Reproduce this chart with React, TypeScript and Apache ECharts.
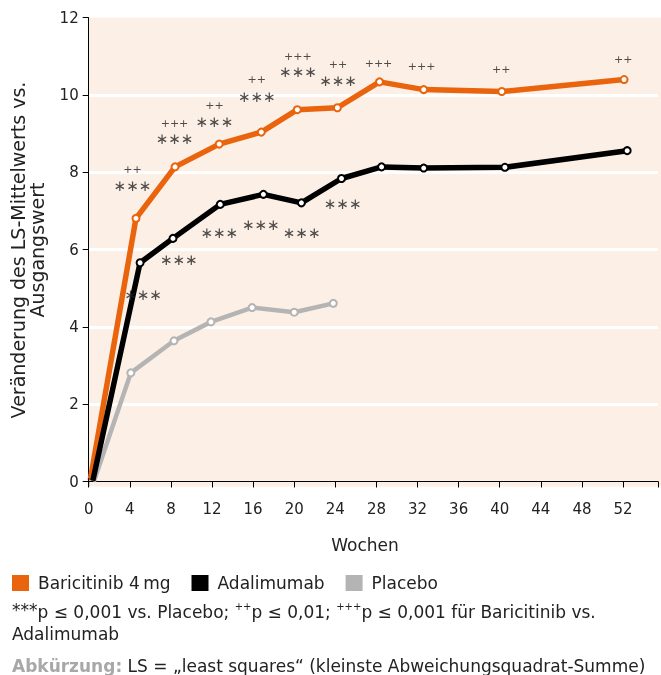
import React, { useEffect, useRef } from "react";
import * as echarts from "echarts";

const weekTicks = [0, 4, 8, 12, 16, 20, 24, 28, 32, 36, 40, 44, 48, 52];
const valueTicks = [0, 2, 4, 6, 8, 10, 12];

const weeksBari = [0.15, 4.6, 8.4, 12.7, 16.8, 20.3, 24.2, 28.3, 32.6, 40.2, 52.1];
const valuesBari = [0.04, 6.81, 8.14, 8.73, 9.04, 9.62, 9.67, 10.34, 10.14, 10.09, 10.4];
const weeksAda = [0.4, 5.0, 8.2, 12.8, 17.0, 20.7, 24.6, 28.5, 32.6, 40.5, 52.4];
const valuesAda = [0.02, 5.66, 6.29, 7.17, 7.43, 7.21, 7.84, 8.14, 8.11, 8.13, 8.56];
const weeksPbo = [0.5, 4.1, 8.3, 11.9, 15.9, 20.0, 23.8];
const valuesPbo = [0.0, 2.81, 3.64, 4.13, 4.5, 4.38, 4.61];

// significance vs placebo (***)
const starWeeks = [4.26, 8.35, 12.23, 16.36, 20.36, 24.26, 5.29, 8.77, 12.71, 16.75, 20.72, 24.71];
const starValues = [7.65, 8.85, 9.29, 9.96, 10.59, 10.37, 4.83, 5.73, 6.42, 6.64, 6.42, 7.17];
// significance vs adalimumab (++ / +++)
const plusWeeks = [4.26, 8.35, 12.23, 16.36, 20.36, 24.26, 28.2, 32.39, 40.14, 52.01];
const plusValues = [8.08, 9.25, 9.72, 10.39, 10.99, 10.8, 10.82, 10.73, 10.65, 10.92];
const plusTexts = ["++", "+++", "++", "++", "+++", "++", "+++", "+++", "++", "++"];

const seriesNames = ["Baricitinib 4\u2009mg", "Adalimumab", "Placebo"];
const colors = ["#E9640C", "#000000", "#B4B4B4"];

const FONT = "DejaVu Sans";

export default function App() {
  const ref = useRef<HTMLDivElement>(null);
  useEffect(() => {
    if (!ref.current) return;
    const chart = echarts.init(ref.current, null, { renderer: "svg" });
    const zip = (xs: number[], ys: number[]) =>
      xs.map((x, i) => (i === 0 ? { value: [x, ys[i]], symbol: "none" } : [x, ys[i]]));
    const lineSeries = (idx: number, xs: number[], ys: number[], width: number, z: number) => ({
      name: seriesNames[idx],
      type: "line",
      data: zip(xs, ys),
      symbol: "emptyCircle",
      symbolSize: 7,
      showSymbol: true,
      z,
      lineStyle: { color: colors[idx], width },
      itemStyle: { color: colors[idx], borderWidth: 1.5 },
    });
    const option: any = {
      animation: false,
      textStyle: { fontFamily: FONT },
      grid: { left: 88.7, top: 17.7, right: 0, bottom: 193.5, containLabel: false },
      legend: {
        left: 12,
        top: 574.5,
        padding: 0,
        itemWidth: 17,
        itemHeight: 16,
        itemGap: 21,
        icon: "rect",
        textStyle: { fontFamily: FONT, fontSize: 17, color: "#222", padding: [0, 0, 0, 4] },
        data: seriesNames.map((n, i) => ({ name: n, icon: "rect", itemStyle: { color: colors[i], borderWidth: 0 } })),
      },
      xAxis: {
        type: "value",
        min: 0,
        max: 55.4,
        interval: 4,
        offset: 5,
        axisLine: { show: true, lineStyle: { color: "#000", width: 1 } },
        axisTick: { show: true, length: 6, lineStyle: { color: "#000" } },
        axisLabel: {
          fontSize: 15,
          color: "#222",
          margin: 15,
          fontFamily: FONT,
          formatter: (v: number) => (weekTicks.includes(v) ? String(v) : ""),
        },
        splitLine: { show: false },
      },
      yAxis: {
        type: "value",
        min: 0,
        max: 12,
        interval: 2,
        axisLine: { show: true, lineStyle: { color: "#000", width: 1 } },
        axisTick: { show: true, length: 6, lineStyle: { color: "#000" } },
        axisLabel: {
          fontSize: 15,
          color: "#222",
          margin: 10,
          fontFamily: FONT,
          formatter: (v: number) => (valueTicks.includes(v) ? String(v) : ""),
        },
        splitLine: { show: true, showMinLine: false, showMaxLine: false, lineStyle: { color: "#ffffff", width: 3 } },
      },
      graphic: [
        {
          type: "rect",
          z: -10,
          shape: { x: 88.7, y: 17.7, width: 661 - 88.7, height: 486.5 - 17.7 },
          style: { fill: "#FCEFE6" },
          silent: true,
        },
        {
          type: "line",
          z: 10,
          shape: { x1: 88.7, y1: 478, x2: 88.7, y2: 486.5 },
          style: { stroke: "#000", lineWidth: 1 },
        },
        {
          type: "text",
          x: 27,
          y: 250,
          rotation: Math.PI / 2,
          style: {
            text: "Veränderung des LS-Mittelwerts vs.\nAusgangswert",
            font: `19px '${FONT}'`,
            fill: "#222",
            align: "center",
            verticalAlign: "middle",
            lineHeight: 19,
          },
        },
        {
          type: "text",
          x: 365,
          y: 545,
          style: {
            text: "Wochen",
            font: `17px '${FONT}'`,
            fill: "#222",
            align: "center",
            verticalAlign: "middle",
          },
        },
        {
          type: "text",
          x: 12,
          y: 601,
          style: {
            text: "{sup|***}p ≤ 0,001 vs. Placebo; {sm|++}p ≤ 0,01; {sm|+++}p ≤ 0,001 für Baricitinib vs.\nAdalimumab",
            font: `17px '${FONT}'`,
            fill: "#222",
            verticalAlign: "top",
            lineHeight: 22,
            rich: {
              sup: { fontSize: 17, fontFamily: FONT, fill: "#222", verticalAlign: "top", lineHeight: 22 },
              sm: { fontSize: 10, fontFamily: FONT, fill: "#222", verticalAlign: "top", lineHeight: 22 },
            },
          },
        },
        {
          type: "text",
          x: 12,
          y: 666,
          style: {
            text: "{b|Abkürzung:} LS = „least squares“ (kleinste Abweichungsquadrat-Summe)",
            font: `17px '${FONT}'`,
            fill: "#222",
            verticalAlign: "middle",
            rich: {
              b: { fontSize: 17, fontFamily: FONT, fontWeight: "bold", fill: "#A8A8A8" },
            },
          },
        },
      ],
      series: [
        lineSeries(2, weeksPbo, valuesPbo, 4.5, 2),
        lineSeries(0, weeksBari, valuesBari, 5.5, 3),
        lineSeries(1, weeksAda, valuesAda, 5.5, 4),
        {
          type: "scatter",
          name: "stars",
          z: 5,
          symbolSize: 0,
          silent: true,
          data: starWeeks.map((w, i) => ({ value: [w, starValues[i]], name: "\u2217\u2217\u2217" })),
          label: {
            show: true,
            position: "inside",
            formatter: (p: any) => p.name,
            fontSize: 15,
            fontFamily: FONT,
            color: "#222",
          },
        },
        {
          type: "scatter",
          name: "plus",
          z: 5,
          symbolSize: 0,
          silent: true,
          data: plusWeeks.map((w, i) => ({ value: [w, plusValues[i]], name: plusTexts[i] })),
          label: {
            show: true,
            position: "inside",
            formatter: (p: any) => p.name,
            fontSize: 11,
            fontFamily: FONT,
            color: "#222",
          },
        },
      ],
    };
    chart.setOption(option);
    return () => chart.dispose();
  }, []);
  return <div ref={ref} style={{ position: "fixed", left: 0, top: 0, width: 661, height: 675 }} />;
}
